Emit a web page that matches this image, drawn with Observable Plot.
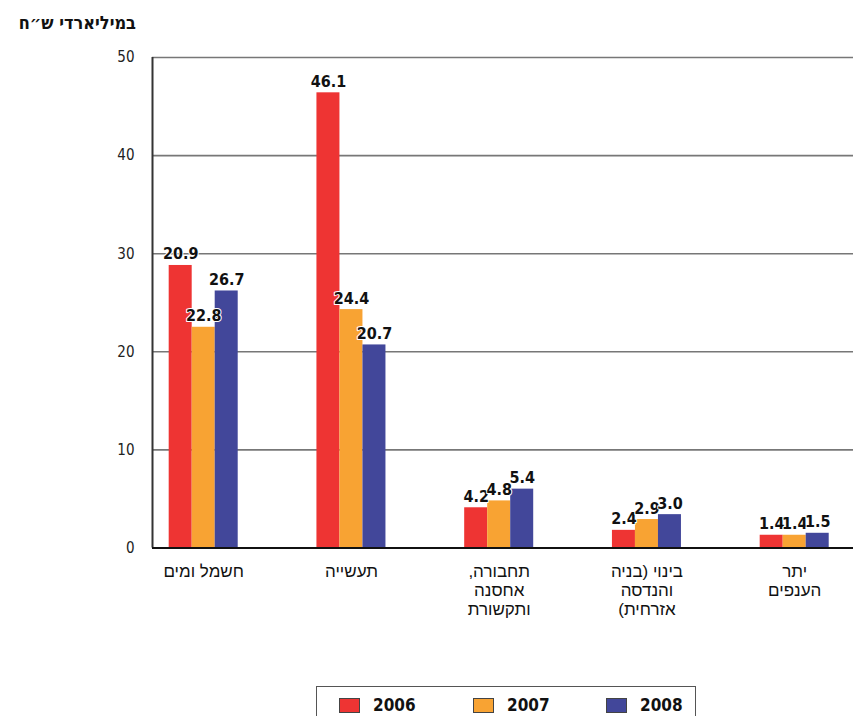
<!DOCTYPE html>
<html lang="he">
<head>
<meta charset="utf-8">
<script src="https://cdn.jsdelivr.net/npm/d3@7"></script>
<script src="https://cdn.jsdelivr.net/npm/@observablehq/plot@0.6"></script>
<style>
  html, body { margin: 0; padding: 0; background: #fff; }
  body { width: 853px; height: 716px; position: relative; overflow: hidden; font-family: "DejaVu Sans", sans-serif; }
  #title { position: absolute; right: 717px; top: 12px; white-space: nowrap; direction: rtl;
           font: bold 18px "DejaVu Sans Condensed", "DejaVu Sans", sans-serif; color: #111; }
  #chart { position: absolute; left: 0; top: 0; }
  #legend { position: absolute; left: 316px; top: 686px; width: 380px; height: 60px; border: 1px solid #555;
            box-sizing: border-box; }
  .item { position: absolute; top: 8px; display: flex; align-items: center; font: bold 17px "DejaVu Sans Condensed", "DejaVu Sans", sans-serif; color: #111; }
  .sw { width: 19px; height: 13px; border: 1px solid #444; margin-right: 13px; }
</style>
</head>
<body>
<div id="chart"></div>
<div id="title">במיליארדי ש״ח</div>
<div id="legend"></div>
<script>
const categories = ["חשמל ומים", "תעשייה", "תחבורה,\nאחסנה\nותקשורת", "בינוי (בניה\nוהנדסה\nאזרחית)", "יתר\nהענפים"];
const years = ["2006", "2007", "2008"];
const colors = ["#ee3433", "#f8a333", "#42479a"];
// bar heights as drawn in the picture
const heights2006 = [28.8, 46.4, 4.1, 1.8, 1.3];
const heights2007 = [22.5, 24.3, 4.8, 2.9, 1.3];
const heights2008 = [26.2, 20.7, 6.0, 3.4, 1.5];
// value labels as printed
const labels2006 = ["20.9", "46.1", "4.2", "2.4", "1.4"];
const labels2007 = ["22.8", "24.4", "4.8", "2.9", "1.4"];
const labels2008 = ["26.7", "20.7", "5.4", "3.0", "1.5"];
const yTicks = [0, 10, 20, 30, 40, 50];

const heights = [heights2006, heights2007, heights2008];
const labels = [labels2006, labels2007, labels2008];
const barW = 0.1557;
const xDomain = [-0.3465, 4.398];

const data = [];
categories.forEach((c, i) => {
  years.forEach((yr, j) => {
    data.push({
      i, cat: c, year: yr,
      value: heights[j][i],
      label: labels[j][i],
      x1: i + (j - 1.5) * barW,
      x2: i + (j - 0.5) * barW,
      xc: i + (j - 1) * barW
    });
  });
});
const catData = categories.map((c, i) => ({i, c}));
const labelFont = "'DejaVu Sans Condensed', 'DejaVu Sans', sans-serif";

const plot = Plot.plot({
  width: 853,
  height: 640,
  marginLeft: 152,
  marginRight: 0,
  marginTop: 57,
  marginBottom: 92.5,
  style: { fontFamily: "'DejaVu Sans', sans-serif", background: "transparent" },
  x: { domain: xDomain, axis: null },
  y: { domain: [0, 50], axis: null, label: null },
  color: { domain: years, range: colors },
  marks: [
    Plot.ruleY(yTicks.filter(d => d > 0), { stroke: "#777", strokeWidth: 1.6 }),
    Plot.rectY(data, { x1: "x1", x2: "x2", y: "value", fill: "year" }),
    Plot.ruleX([xDomain[0]], { y1: 0, y2: 50, stroke: "#333", strokeWidth: 2 }),
    Plot.ruleY([0], { stroke: "#111", strokeWidth: 2 }),
    Plot.axisY({ ticks: yTicks, tickSize: 0, tickPadding: 18, fontSize: 15, fill: "#222",
                 label: null, fontFamily: labelFont }),
    Plot.text(data, { x: "xc", y: "value", text: "label", lineAnchor: "bottom", dy: -6,
                      fontSize: 16, fontWeight: "bold", fill: "#111",
                      fontFamily: labelFont, stroke: "white", strokeWidth: 2 }),
    Plot.text(catData, { x: "i", y: () => 0, text: "c", lineAnchor: "top", dy: 15,
                         fontSize: 17, lineHeight: 1.12, fill: "#111",
                         fontFamily: "'Liberation Sans', 'DejaVu Sans', sans-serif" })
  ]
});
plot.querySelectorAll("text").forEach(t => t.setAttribute("direction", "rtl"));
plot.querySelectorAll("g[aria-label='y-axis tick label'] text").forEach(t => t.setAttribute("direction", "ltr"));
document.getElementById("chart").appendChild(plot);

const legend = document.getElementById("legend");
const legendX = [22, 156, 289];
years.forEach((yr, j) => {
  const item = document.createElement("div");
  item.className = "item";
  item.style.left = legendX[j] + "px";
  const sw = document.createElement("div");
  sw.className = "sw";
  sw.style.background = colors[j];
  const tx = document.createElement("span");
  tx.textContent = yr;
  item.appendChild(sw);
  item.appendChild(tx);
  legend.appendChild(item);
});
</script>
</body>
</html>
